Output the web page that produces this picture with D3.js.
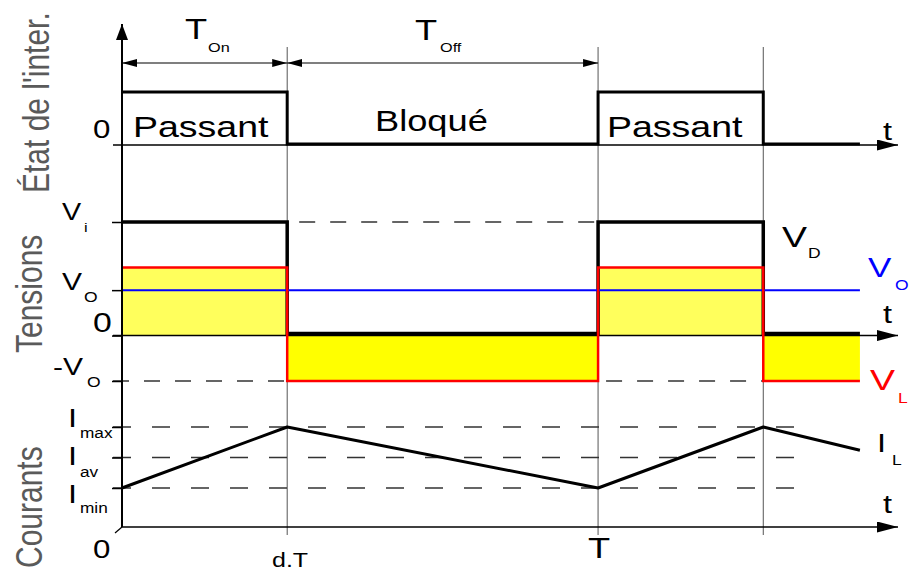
<!DOCTYPE html>
<html>
<head>
<meta charset="utf-8">
<script src="https://cdn.jsdelivr.net/npm/d3@7"></script>
<style>
  body { margin: 0; background: #fff; }
  svg { display: block; font-family: "Liberation Sans", Arial, sans-serif; }
</style>
</head>
<body>
<svg id="chart" width="912" height="572"></svg>
<script>
const width = 912;
const height = 572;

// switching instants (fraction of the period T) and end of drawn waveforms
let edges = [0, 0.347, 1, 1.347, 1.55];
let tMax = 1.63;

// switch state on each interval: 1 = closed, 0 = open
let stateVals = [1, 0, 1, 0];
let stateNames = ["Passant", "Bloqué", "Passant", ""];

// voltages, in units of Vo
let vdVals = [2.5, 0, 2.5, 0];
let vlVals = [1.5, -1, 1.5, -1];
let voVal = 1;
let vLevels = [2.5, 1, 0, -1];

// inductor current at each edge, and Imax / Iav / Imin levels
let ilVals = [1, 2, 1, 2, 1.62];
let iLevels = [2, 1.5, 1];

const sx = 1.25; // the picture is stretched horizontally

let svg = d3.select("svg#chart");

/* SCALES */
let x = d3.scaleLinear().domain([0, tMax]).range([122, 898]);
let yS = d3.scaleLinear().domain([0, 1]).range([145, 92]);
let yV = d3.scaleLinear().domain([-1, 2.5]).range([381, 222]);
let yI = d3.scaleLinear().domain([1, 2]).range([488, 427]);
const iBase = 527;

/* MARKERS */
let defs = svg.append("defs");
function marker(id, len, half) {
  defs.append("marker")
    .attr("id", id)
    .attr("markerUnits", "userSpaceOnUse")
    .attr("viewBox", `0 ${-half} ${len} ${2 * half}`)
    .attr("refX", len).attr("refY", 0)
    .attr("markerWidth", len).attr("markerHeight", 2 * half)
    .attr("orient", "auto-start-reverse")
    .append("path")
    .attr("d", `M0,${-half}L${len},0L0,${half}Z`)
    .attr("fill", "#000");
}
marker("axisArrow", 21, 5.5);
marker("upArrow", 16, 6);
marker("dimArrow", 15, 4);

function line(x1, y1, x2, y2, stroke, w) {
  return svg.append("line")
    .attr("x1", x1).attr("y1", y1).attr("x2", x2).attr("y2", y2)
    .attr("stroke", stroke).attr("stroke-width", w);
}

function label(str, px, py, size, color, s) {
  return svg.append("text")
    .attr("transform", `translate(${px},${py}) scale(${s || sx},1)`)
    .style("font-size", size + "px")
    .attr("fill", color || "#000")
    .text(str);
}

/* GUIDE LINES */
[edges[1], edges[2], edges[3]].forEach(t => {
  line(x(t), 47, x(t), 535, "#555", 1);
});

/* DIMENSION ARROWS */
line(x(0), 63, x(edges[1]), 63, "#000", 1.2)
  .attr("marker-start", "url(#dimArrow)").attr("marker-end", "url(#dimArrow)");
line(x(edges[1]), 63, x(edges[2]), 63, "#000", 1.2)
  .attr("marker-start", "url(#dimArrow)").attr("marker-end", "url(#dimArrow)");
label("T", 185, 39, 29);
label("On", 208, 52, 13);
label("T", 415, 40, 29);
label("Off", 440, 52, 13);

/* STEP HELPERS */
function stepPoints(vals) {
  let pts = vals.map((v, i) => [edges[i], v]);
  pts.push([edges[edges.length - 1], vals[vals.length - 1]]);
  return pts;
}

/* PANEL 1 : switch state */
line(113, yS(0), 898, yS(0), "#000", 1.5).attr("marker-end", "url(#axisArrow)");
svg.append("path")
  .attr("d", d3.line().x(d => x(d[0])).y(d => yS(d[1]) - (d[1] === 0 ? 1 : 0))
    .curve(d3.curveStepAfter)(stepPoints(stateVals)))
  .attr("fill", "none").attr("stroke", "#000").attr("stroke-width", 3);
label("Passant", 133, 137, 30);
label("Bloqué", 375, 131, 29);
label("Passant", 607, 137, 30);
label("0", 93, 138, 25);
label("t", 883, 140, 26);

/* PANEL 2 : voltages */
let vGroup = svg.append("g");
vGroup.selectAll("rect")
  .data(vlVals)
  .enter()
  .append("rect")
    .attr("x", (d, i) => x(edges[i]))
    .attr("width", (d, i) => x(edges[i + 1]) - x(edges[i]))
    .attr("y", d => Math.min(yV(d), yV(0)))
    .attr("height", d => Math.abs(yV(d) - yV(0)))
    .attr("fill", d => d > 0 ? "#ffff5c" : "#ffff00");

// dashed reference levels
line(x(edges[1]), yV(vLevels[0]), x(edges[2]), yV(vLevels[0]), "#333", 1.5)
  .attr("stroke-dasharray", "16,15").attr("stroke-dashoffset", -12);
line(113, yV(-1), x(edges[1]), yV(-1), "#333", 1.5).attr("stroke-dasharray", "16,15");
line(x(edges[2]), yV(-1), x(edges[3]), yV(-1), "#333", 1.5)
  .attr("stroke-dasharray", "16,15").attr("stroke-dashoffset", -8);

line(113, yV(0), 898, yV(0), "#000", 1.5).attr("marker-end", "url(#axisArrow)");

svg.append("path")
  .attr("d", d3.line().x(d => x(d[0])).y(d => yV(d[1]) - (d[1] === 0 ? 2 : 0))
    .curve(d3.curveStepAfter)(stepPoints(vdVals)))
  .attr("fill", "none").attr("stroke", "#000").attr("stroke-width", 3.5);

line(x(0), yV(voVal), x(edges[4]), yV(voVal), "#0000ff", 2);

svg.append("path")
  .attr("d", d3.line().x(d => x(d[0])).y(d => yV(d[1]))
    .curve(d3.curveStepAfter)(stepPoints(vlVals)))
  .attr("fill", "none").attr("stroke", "#ff0000").attr("stroke-width", 2.5);

let vTicks = d3.axisLeft(yV).tickValues(vLevels).tickFormat("").tickSize(10).tickSizeOuter(0);
svg.append("g").attr("transform", "translate(122,0)").call(vTicks)
  .call(g => g.select(".domain").remove())
  .selectAll("line").attr("stroke", "#000").attr("stroke-width", 1.5);

label("V", 62, 220, 23);
label("i", 84, 232, 13);
label("V", 62, 290, 24);
label("O", 84, 302, 14);
label("0", 93, 332, 27);
label("-V", 53, 375, 24);
label("O", 87, 387, 14);
label("V", 782, 247, 30);
label("D", 808, 258, 14);
label("V", 868, 277, 28, "#0000ff");
label("O", 895, 290, 14, "#0000ff");
label("V", 870, 390, 30, "#ff0000");
label("L", 898, 403, 14, "#ff0000");
label("t", 883, 323, 26);

/* PANEL 3 : inductor current */
iLevels.forEach(v => {
  line(113, yI(v), 802, yI(v), "#333", 1.5).attr("stroke-dasharray", "18,21");
});
line(x(0), iBase, 898, iBase, "#000", 1.5).attr("marker-end", "url(#axisArrow)");
line(115, iBase + 6, x(0), iBase, "#000", 1.2);

svg.append("path")
  .attr("d", d3.line().x((d, i) => x(edges[i])).y(d => yI(d))(ilVals))
  .attr("fill", "none").attr("stroke", "#000").attr("stroke-width", 3)
  .attr("stroke-linejoin", "round");

let iTicks = d3.axisLeft(yI).tickValues(iLevels).tickFormat("").tickSize(10).tickSizeOuter(0);
svg.append("g").attr("transform", "translate(122,0)").call(iTicks)
  .call(g => g.select(".domain").remove())
  .selectAll("line").attr("stroke", "#000").attr("stroke-width", 1.5);

label("I", 68, 427, 26);
label("max", 80, 438, 15, "#000", 1.15);
label("I", 68, 465, 26);
label("av", 80, 477, 15, "#000", 1.15);
label("I", 68, 503, 26);
label("min", 80, 513, 15, "#000", 1.15);
label("I", 877, 452, 26);
label("L", 892, 465, 14);
label("t", 883, 513, 26);

label("0", 93, 558, 25);
label("d.T", 272, 567, 20);
label("T", 588, 558, 29);

/* VERTICAL AXIS */
line(x(0), iBase, x(0), 24, "#000", 2).attr("marker-end", "url(#upArrow)");

/* PANEL TITLES */
function vTitle(str, bx, by) {
  svg.append("text")
    .attr("transform", `translate(${bx},${by}) scale(${sx},1) rotate(-90)`)
    .style("font-size", "30px")
    .attr("fill", "#5a5a5a")
    .text(str);
}
vTitle("État de l'inter.", 49, 193);
vTitle("Tensions", 42, 353);
vTitle("Courants", 42, 568);
</script>
</body>
</html>
